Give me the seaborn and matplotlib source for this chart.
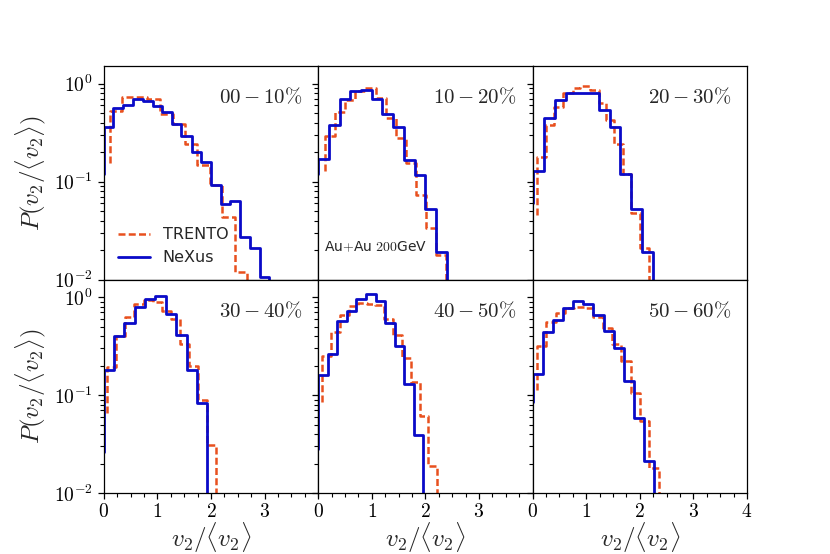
import numpy as np
import matplotlib
matplotlib.use("Agg")
import matplotlib.pyplot as plt
from matplotlib.ticker import FixedLocator, FixedFormatter, MultipleLocator, LogLocator
import seaborn as sns

# centrality classes
classes = ["00-10", "10-20", "20-30", "30-40", "40-50", "50-60"]
class_labels = [r"$00-10\%$", r"$10-20\%$", r"$20-30\%$",
                r"$30-40\%$", r"$40-50\%$", r"$50-60\%$"]

# NeXus histograms: bin edges and P values (first = start point, last = drop below axis)
nexus_x_0 = [0, 0.18, 0.36, 0.55, 0.73, 0.91, 1.09, 1.27, 1.45, 1.64, 1.82, 2.00, 2.18, 2.36, 2.55, 2.73, 2.91, 3.09, 3.27]
nexus_y_0 = [0.12, 0.36, 0.57, 0.60, 0.70, 0.67, 0.59, 0.52, 0.39, 0.29, 0.20, 0.16, 0.092, 0.059, 0.064, 0.027, 0.021, 0.0106, 0.001]
nexus_x_1 = [0, 0.2, 0.4, 0.6, 0.8, 1.0, 1.2, 1.4, 1.6, 1.8, 2.0, 2.2, 2.4, 2.6]
nexus_y_1 = [0.12, 0.17, 0.38, 0.70, 0.85, 0.86, 0.70, 0.49, 0.36, 0.166, 0.117, 0.053, 0.019, 0.001]
nexus_x_2 = [0, 0.205, 0.41, 0.615, 0.82, 1.025, 1.23, 1.435, 1.64, 1.845, 2.05, 2.255, 2.46]
nexus_y_2 = [0.061, 0.129, 0.45, 0.69, 0.81, 0.81, 0.80, 0.54, 0.36, 0.12, 0.053, 0.019, 0.001]
nexus_x_3 = [0, 0.193, 0.386, 0.579, 0.772, 0.965, 1.158, 1.351, 1.544, 1.737, 1.93, 2.12]
nexus_y_3 = [0.026, 0.178, 0.40, 0.54, 0.79, 0.96, 1.03, 0.67, 0.41, 0.178, 0.083, 0.001]
nexus_x_4 = [0, 0.179, 0.357, 0.536, 0.714, 0.893, 1.071, 1.25, 1.429, 1.607, 1.786, 1.965, 2.14]
nexus_y_4 = [0.028, 0.16, 0.26, 0.57, 0.72, 0.95, 1.065, 0.92, 0.54, 0.32, 0.13, 0.039, 0.001]
nexus_x_5 = [0, 0.189, 0.378, 0.567, 0.756, 0.945, 1.134, 1.323, 1.512, 1.701, 1.89, 2.079, 2.268, 2.46]
nexus_y_5 = [0.085, 0.164, 0.44, 0.58, 0.78, 0.91, 0.84, 0.65, 0.45, 0.30, 0.139, 0.058, 0.021, 0.001]

# TRENTO histograms
trento_x_0 = [0.112, 0.349, 0.579, 0.816, 1.047, 1.283, 1.514, 1.745, 1.981, 2.212, 2.449, 2.679, 2.91]
trento_y_0 = [0.155, 0.53, 0.73, 0.73, 0.70, 0.49, 0.39, 0.24, 0.148, 0.092, 0.044, 0.012, 0.001]
trento_x_1 = [0.125, 0.314, 0.503, 0.692, 0.88, 1.07, 1.26, 1.45, 1.64, 1.83, 2.01, 2.20, 2.39, 2.58]
trento_y_1 = [0.128, 0.29, 0.52, 0.68, 0.84, 0.91, 0.72, 0.45, 0.28, 0.157, 0.074, 0.034, 0.018, 0.001]
trento_x_2 = [0.08, 0.254, 0.404, 0.566, 0.752, 0.89, 1.064, 1.232, 1.376, 1.525, 1.687, 1.837, 1.999, 2.167, 2.33]
trento_y_2 = [0.046, 0.18, 0.38, 0.585, 0.80, 0.91, 0.95, 0.855, 0.63, 0.43, 0.24, 0.119, 0.048, 0.021, 0.001]
trento_x_3 = [0.062, 0.232, 0.402, 0.572, 0.742, 0.912, 1.082, 1.252, 1.422, 1.592, 1.762, 1.932, 2.102, 2.27]
trento_y_3 = [0.065, 0.195, 0.40, 0.62, 0.84, 0.93, 0.90, 0.72, 0.59, 0.33, 0.20, 0.089, 0.031, 0.001]
trento_x_4 = [0.077, 0.242, 0.407, 0.572, 0.737, 0.902, 1.067, 1.232, 1.397, 1.562, 1.727, 1.892, 2.057, 2.222, 2.39]
trento_y_4 = [0.085, 0.25, 0.44, 0.65, 0.81, 0.875, 0.85, 0.83, 0.59, 0.41, 0.24, 0.137, 0.061, 0.019, 0.001]
trento_x_5 = [0.08, 0.255, 0.43, 0.605, 0.78, 0.955, 1.13, 1.305, 1.48, 1.655, 1.83, 2.005, 2.18, 2.355, 2.53]
trento_y_5 = [0.112, 0.32, 0.56, 0.69, 0.77, 0.80, 0.78, 0.62, 0.48, 0.33, 0.22, 0.106, 0.054, 0.018, 0.001]

nexus = [(nexus_x_0, nexus_y_0), (nexus_x_1, nexus_y_1), (nexus_x_2, nexus_y_2),
         (nexus_x_3, nexus_y_3), (nexus_x_4, nexus_y_4), (nexus_x_5, nexus_y_5)]
trento = [(trento_x_0, trento_y_0), (trento_x_1, trento_y_1), (trento_x_2, trento_y_2),
          (trento_x_3, trento_y_3), (trento_x_4, trento_y_4), (trento_x_5, trento_y_5)]

sns.set_style("ticks", {"axes.edgecolor": "black", "xtick.color": "black", "ytick.color": "black"})
plt.rcParams["mathtext.fontset"] = "cm"
plt.rcParams["font.family"] = ["DejaVu Sans"]

blue = "#0a0ac8"
orange = "#e8501e"

fig, axes = plt.subplots(2, 3, figsize=(8.3, 5.54), dpi=100)
fig.subplots_adjust(left=0.125, right=0.9, top=0.88, bottom=0.11, wspace=0, hspace=0)

for i, ax in enumerate(axes.flat):
    row, col = divmod(i, 3)
    tx, ty = trento[i]
    nx, ny = nexus[i]
    sns.lineplot(x=tx, y=ty, ax=ax, color=orange, lw=1.8, linestyle=(0, (2.8, 1.3)),
                 drawstyle="steps-pre", label="TRENTO")
    sns.lineplot(x=nx, y=ny, ax=ax, color=blue, lw=2.0, drawstyle="steps-pre", label="NeXus")

    ax.set_yscale("log")
    ax.set_ylim(0.01, 1.5)
    ax.set_xlim(0, 4)
    ax.yaxis.set_major_locator(FixedLocator([0.01, 0.1, 1.0]))
    ax.yaxis.set_major_formatter(FixedFormatter([r"$10^{-2}$", r"$10^{-1}$", r"$10^{0}$"]))
    ax.yaxis.set_minor_locator(LogLocator(base=10, subs=np.arange(2, 10)))

    xt = [0, 1, 2, 3, 4] if col == 2 else [0, 1, 2, 3]
    ax.xaxis.set_major_locator(FixedLocator(xt))
    ax.xaxis.set_major_formatter(FixedFormatter(["$%d$" % v for v in xt]))
    ax.xaxis.set_minor_locator(MultipleLocator(0.25))
    ax.tick_params(which="major", labelsize=14, direction="out", length=4.5, width=0.9)
    ax.tick_params(which="minor", direction="out", length=2.6, width=0.8)
    ax.tick_params(axis="x", which="major", pad=2)
    for s in ax.spines.values():
        s.set_linewidth(0.9)

    if row == 0:
        ax.tick_params(axis="x", which="both", bottom=False, labelbottom=False)
    else:
        ax.set_xlabel(r"$v_2/\langle v_2\rangle$", fontsize=18, labelpad=0)
    if col == 0:
        ax.set_ylabel(r"$P(v_2/\langle v_2\rangle)$", fontsize=18)
    else:
        ax.tick_params(axis="y", labelleft=False)
        ax.set_ylabel("")

    ax.text(0.925, 0.855, class_labels[i], transform=ax.transAxes,
            ha="right", va="center", fontsize=15)

    if i == 0:
        ax.legend(loc="lower left", frameon=False, fontsize=11.5)
    else:
        ax.get_legend().remove()

axes[0, 1].text(0.027, 0.152, r"Au$+$Au $200$GeV", transform=axes[0, 1].transAxes,
                ha="left", va="center", fontsize=10)

fig.savefig("out.png", dpi=100)
